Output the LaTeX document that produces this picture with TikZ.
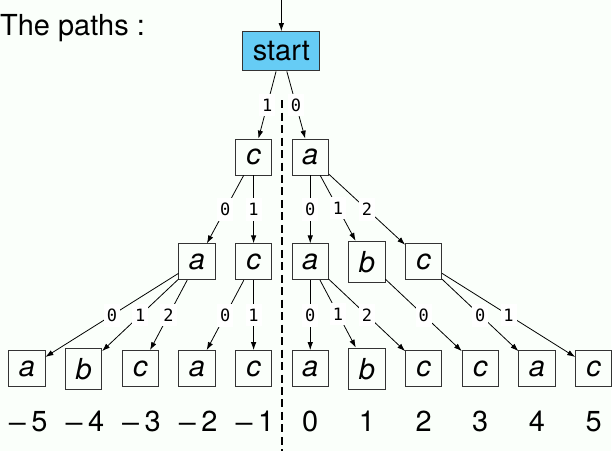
\documentclass[tikz,border=0pt]{standalone}
\usepackage{fontspec}
\setmainfont{TeX Gyre Heros}
\newfontfamily\digitfont{DejaVu Sans Mono}
\usetikzlibrary{arrows.meta}

\definecolor{startblue}{RGB}{102,204,245}
\definecolor{paper}{RGB}{250,255,250}

\begin{document}
\begin{tikzpicture}[x=1pt,y=-1pt,font=\fontsize{29}{34}\selectfont,
		letter/.style={draw=black!80,line width=0.9pt,minimum width=36pt,minimum height=36pt,
			inner sep=10pt,text depth=0pt,font=\fontsize{29}{34}\selectfont\itshape},
		edge/.style={-{Latex[length=8pt,width=5.5pt]},line width=0.8pt},
		digit/.style={fill=white,inner xsep=3pt,inner ysep=5pt,font=\fontsize{17}{19}\selectfont\digitfont}]
	\fill[paper] (0,0) rectangle (612,452);
	\node[anchor=west,inner sep=0pt] (title) at (0,28) {The paths :};
	% root and the first two levels
	\node[letter,fill=startblue,font=\fontsize{29}{34}\selectfont] (start) at (282,51) {start};
	\coordinate (in) at (282,0);
	\draw[edge] (in) -- (start);
	\node[letter] (c) at (254.2,157) {c};
	\node[letter] (a) at (311,157) {a};
	\node[letter] (ca) at (197.4,262) {a};
	\node[letter] (cc) at (254.2,262) {c};
	\node[letter] (aa) at (311,262) {a};
	\node[letter] (ab) at (367.8,262) {b};
	\node[letter] (ac) at (424.6,262) {c};
	% leaves
	\foreach \name/\lab/\x in {caa/a/27, cab/b/83.8, cac/c/140.6, cca/a/197.4, ccc/c/254.2,
		aaa/a/311, aab/b/367.8, aac/c/424.6, abc/c/481.4, aca/a/538.2, acc/c/595} {
		\node[letter] (\name) at (\x,369) {\lab};
	}
	% offsets under the leaves
	\foreach \lab/\x in {5/27, 4/83.8, 3/140.6, 2/197.4, 1/254.2} {
		\node (neg\lab) at (\x,422) {\scalebox{1.3}[1]{−}\kern3pt\lab};
	}
	\foreach \lab/\x in {0/311, 1/367.8, 2/424.6, 3/481.4, 4/538.2, 5/595} {
		\node (pos\lab) at (\x,422) {\lab};
	}
	\coordinate (top) at (282.6,100);
	\coordinate (bottom) at (282.6,452);
	\draw[line width=1.8pt,dash pattern=on 8pt off 4.5pt] (top) -- (bottom);
	% branches
	\draw[edge] (start) -- node[digit] {1} (c);
	\draw[edge] (start) -- node[digit] {0} (a);
	\draw[edge] (c) -- node[digit] {0} (ca);
	\draw[edge] (c) -- node[digit] {1} (cc);
	\draw[edge] (a) -- node[digit] {0} (aa);
	\draw[edge] (a) -- node[digit] {1} (ab);
	\draw[edge] (a) -- node[digit] {2} (ac);
	\draw[edge] (ca) -- node[digit] {0} (caa);
	\draw[edge] (ca) -- node[digit] {1} (cab);
	\draw[edge] (ca) -- node[digit] {2} (cac);
	\draw[edge] (cc) -- node[digit] {0} (cca);
	\draw[edge] (cc) -- node[digit] {1} (ccc);
	\draw[edge] (aa) -- node[digit] {0} (aaa);
	\draw[edge] (aa) -- node[digit] {1} (aab);
	\draw[edge] (aa) -- node[digit] {2} (aac);
	\draw[edge] (ab) -- node[digit] {0} (abc);
	\draw[edge] (ac) -- node[digit] {0} (aca);
	\draw[edge] (ac) -- node[digit] {1} (acc);
\end{tikzpicture}
\end{document}
